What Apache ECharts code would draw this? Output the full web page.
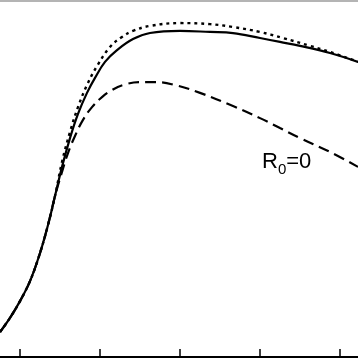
<!DOCTYPE html>
<html><head><meta charset="utf-8">
<script src="https://cdn.jsdelivr.net/npm/echarts@6/dist/echarts.min.js"></script>
<style>html,body{margin:0;padding:0;background:#fff}#c{width:358px;height:358px}</style>
</head><body><div id="c"></div>
<script>
// x positions (axis units, ticks at 0..4) and y values (normalized)
var xSolid  = [-0.25,-0.125,0,0.125,0.25,0.35,0.4375,0.525,0.625,0.725,0.8375,0.9375,1.0625,1.2125,1.4125,1.625,2.0,2.375,2.6625,3.0,3.25,3.5,3.875,4.225];
var ySolid  = [0.070,0.110,0.157,0.213,0.292,0.371,0.452,0.534,0.615,0.683,0.742,0.784,0.829,0.862,0.893,0.910,0.916,0.913,0.910,0.896,0.885,0.874,0.854,0.829];
var xDotted = [-0.25,-0.125,0,0.125,0.25,0.35,0.4375,0.525,0.625,0.725,0.8375,0.9625,1.125,1.275,1.4125,1.625,2.0,2.375,2.6625,3.0,3.2875,3.625,3.875,4.225];
var yDotted = [0.070,0.110,0.157,0.213,0.292,0.371,0.452,0.548,0.632,0.702,0.764,0.817,0.871,0.899,0.916,0.930,0.938,0.935,0.927,0.913,0.896,0.874,0.857,0.829];
var xDashed = [-0.25,-0.125,0,0.125,0.25,0.35,0.4375,0.525,0.6,0.6875,0.7875,0.9,1.025,1.15,1.2875,1.5,1.7125,1.9375,2.25,2.6625,3.0,3.25,3.5,3.875,4.225];
var yDashed = [0.070,0.110,0.157,0.213,0.292,0.371,0.452,0.520,0.573,0.621,0.666,0.702,0.730,0.750,0.764,0.772,0.772,0.764,0.742,0.705,0.671,0.643,0.615,0.576,0.534];
var xTicks = [0,1,2,3,4];
var xMin = -0.25, xMax = 4.225;

function pairs(xs, ys){ return xs.map(function(x,i){return [x, ys[i]];}); }

var chart = echarts.init(document.getElementById('c'), null, {renderer:'canvas'});
chart.setOption({
  animation:false,
  grid:{left:0, right:0, top:1, bottom:1, containLabel:false, outerBoundsMode:'none'},
  xAxis:[{
    type:'value', min:xMin, max:xMax, position:'bottom',
    axisLine:{show:true, lineStyle:{color:'#000', width:2}},
    axisTick:{show:true, inside:true, length:8, customValues:xTicks, lineStyle:{color:'#000', width:1.5}},
    axisLabel:{show:false}, splitLine:{show:false}
  },{
    type:'value', min:xMin, max:xMax, position:'top',
    axisLine:{show:true, lineStyle:{color:'#b4b4b4', width:2}},
    axisTick:{show:false}, axisLabel:{show:false}, splitLine:{show:false}
  }],
  yAxis:{type:'value', min:0, max:1, show:false, splitLine:{show:false}},
  series:[
    {type:'line', data:pairs(xSolid,ySolid), smooth:0.4, showSymbol:false,
     lineStyle:{color:'#000', width:2.2, type:'solid'}},
    {type:'line', data:pairs(xDotted,yDotted), smooth:0.4, showSymbol:false,
     lineStyle:{color:'#000', width:2.4, type:[3,4]}},
    {type:'line', data:pairs(xDashed,yDashed), smooth:0.4, showSymbol:false,
     lineStyle:{color:'#000', width:2.2, type:[11,6]}}
  ],
  graphic:[{
    type:'text', left:262, top:151,
    style:{
      text:'{a|R}{s|0}{a|=0}',
      rich:{
        a:{fontSize:22, fontFamily:'Liberation Sans', fill:'#000', color:'#000', verticalAlign:'bottom', lineHeight:22},
        s:{fontSize:15, fontFamily:'Liberation Sans', fill:'#000', color:'#000', verticalAlign:'bottom', lineHeight:16, padding:[0,0,-4,0]}
      }
    }
  }]
});
</script></body></html>
